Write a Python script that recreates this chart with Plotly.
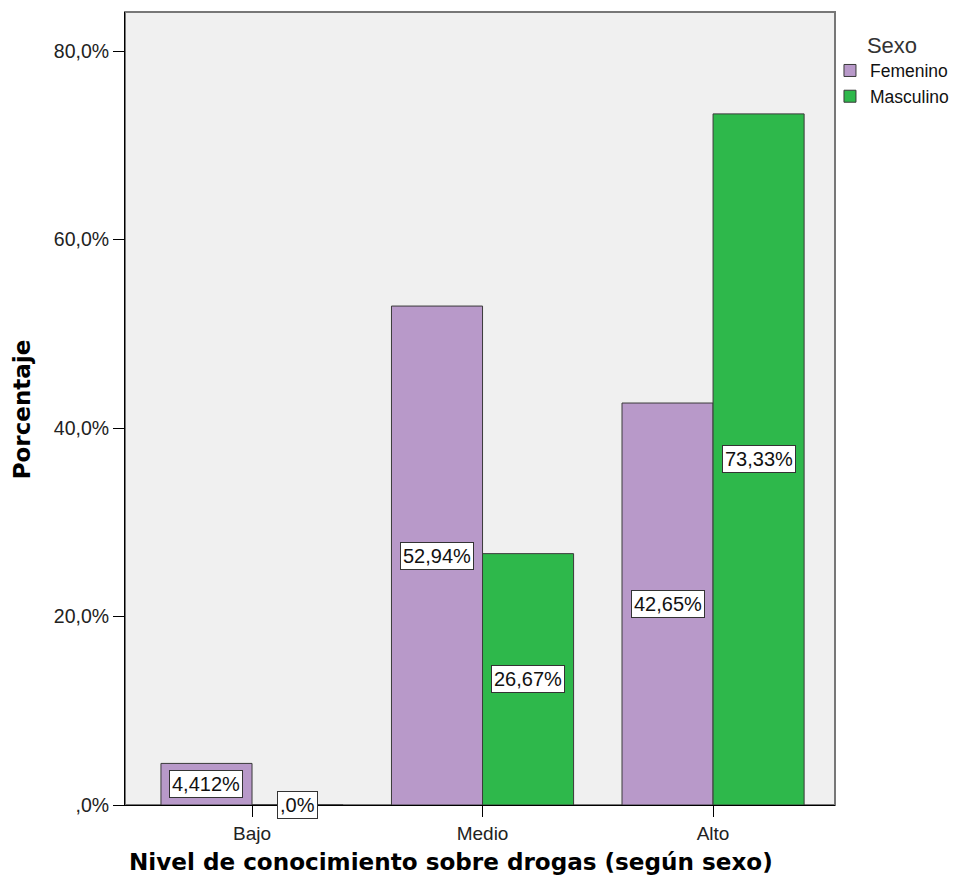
import plotly.graph_objects as go

categories = ["Bajo", "Medio", "Alto"]
femenino = [4.412, 52.94, 42.65]
masculino = [0.0, 26.67, 73.33]
fem_labels = ["4,412%", "52,94%", "42,65%"]
mas_labels = [",0%", "26,67%", "73,33%"]
y_tickvals = [0, 20, 40, 60, 80]
y_ticktext = [",0%", "20,0%", "40,0%", "60,0%", "80,0%"]

x_idx = list(range(len(categories)))
BAR_OFF = 0.1975
LABEL_FONT = dict(family="Liberation Sans, Arial", size=20, color="#111")

fig = go.Figure()
fig.add_trace(go.Bar(
    x=x_idx, y=femenino, name="Femenino",
    marker=dict(color="#B899C9", line=dict(color="#3a3a3a", width=1)),
))
fig.add_trace(go.Bar(
    x=x_idx, y=masculino, name="Masculino",
    marker=dict(color="#2EB84B", line=dict(color="#3a3a3a", width=1)),
))

annotations = []
for i, (v, t) in enumerate(zip(femenino, fem_labels)):
    annotations.append(dict(x=i - BAR_OFF, y=v / 2, text=t, xref="x", yref="y",
                            showarrow=False, bgcolor="white", bordercolor="#333",
                            borderwidth=1, borderpad=2, font=LABEL_FONT))
for i, (v, t) in enumerate(zip(masculino, mas_labels)):
    annotations.append(dict(x=i + BAR_OFF, y=v / 2, text=t, xref="x", yref="y",
                            showarrow=False, bgcolor="white", bordercolor="#333",
                            borderwidth=1, borderpad=2, font=LABEL_FONT))

# axis titles
annotations.append(dict(text="Nivel de conocimiento sobre drogas (según sexo)",
                        xref="paper", yref="paper", x=0.459, y=-0.072,
                        xanchor="center", yanchor="middle", showarrow=False,
                        font=dict(family="DejaVu Sans", size=23.1, color="black", weight="bold")))
annotations.append(dict(text="Porcentaje", textangle=-90,
                        xref="paper", yref="paper", x=-0.145, y=0.499,
                        xanchor="center", yanchor="middle", showarrow=False,
                        font=dict(family="DejaVu Sans", size=23, color="black", weight="bold")))

fig.update_layout(
    width=954, height=889,
    margin=dict(l=125, r=119, t=12, b=84, autoexpand=False),
    paper_bgcolor="white", plot_bgcolor="#F0F0F0",
    barmode="group", bargap=0.21, bargroupgap=0,
    font=dict(family="Liberation Sans, Arial", size=19, color="#222"),
    annotations=annotations,
    legend=dict(
        title=dict(text="Sexo", font=dict(size=22, color="#333"), side="top center"),
        xref="container", yref="container",
        x=0.870, xanchor="left", y=0.973, yanchor="top",
        bgcolor="rgba(0,0,0,0)", font=dict(size=17.5, color="#111"),
        itemwidth=30, tracegroupgap=0,
    ),
    shapes=[dict(type="rect", xref="paper", yref="paper", x0=0, y0=0, x1=1, y1=1,
                 line=dict(color="#777", width=2), layer="below")],
    xaxis=dict(
        range=[-0.551, 2.529], tickmode="array", tickvals=x_idx, ticktext=categories,
        showgrid=False, zeroline=False, showline=True, linecolor="black", linewidth=1,
        ticks="outside", ticklen=11, tickcolor="black",
        tickfont=dict(size=19, color="#222"),
    ),
    yaxis=dict(
        range=[0, 84.14], tickmode="array", tickvals=y_tickvals, ticktext=y_ticktext,
        showgrid=False, zeroline=False, showline=True, linecolor="black", linewidth=1,
        ticks="outside", ticklen=11, tickcolor="black",
        tickfont=dict(size=19.5, color="#222"),
    ),
)

fig.write_html("out.html", config={"displayModeBar": False},
               post_script="document.body.style.margin='0';document.body.style.overflow='hidden';")
